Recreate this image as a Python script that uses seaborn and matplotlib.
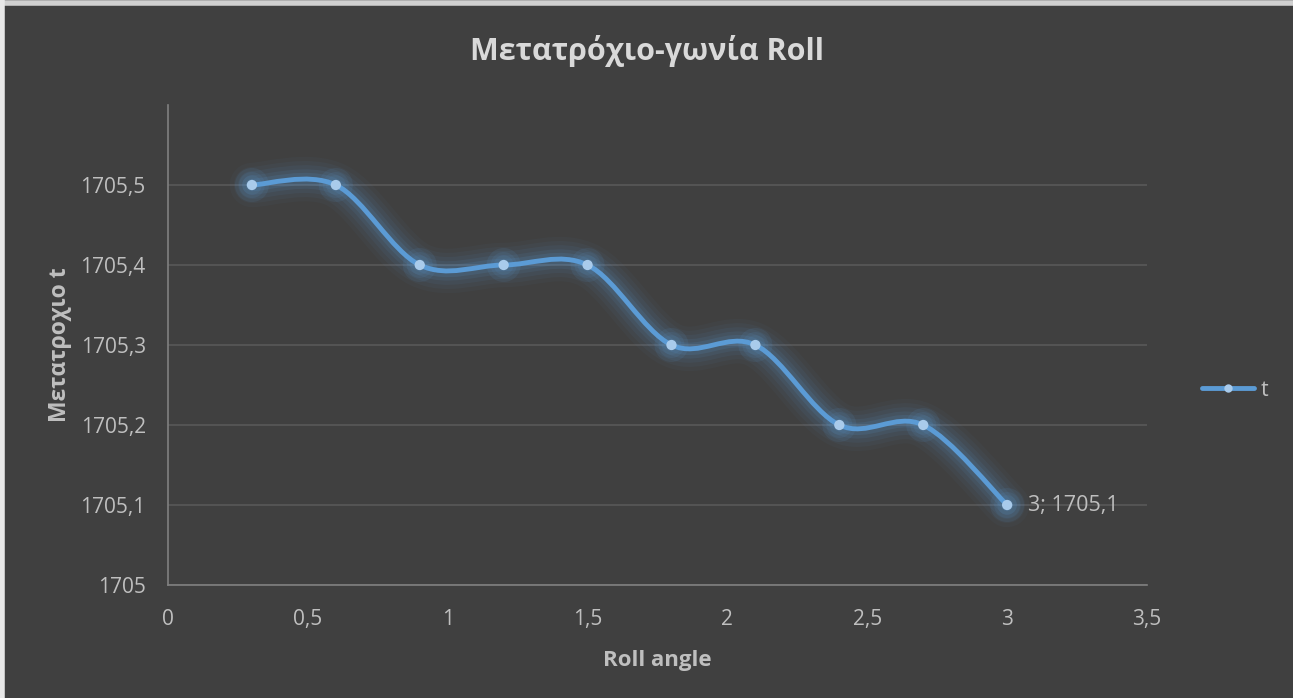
import numpy as np
import pandas as pd
import matplotlib as mpl
import matplotlib.pyplot as plt
import seaborn as sns
from matplotlib.path import Path
from matplotlib.patches import PathPatch
from matplotlib.ticker import FuncFormatter
mpl.use('agg')

roll_angle = [0.3, 0.6, 0.9, 1.2, 1.5, 1.8, 2.1, 2.4, 2.7, 3.0]
t_values = [1705.5, 1705.5, 1705.4, 1705.4, 1705.4, 1705.3, 1705.3, 1705.2, 1705.2, 1705.1]
x_ticks = [0, 0.5, 1, 1.5, 2, 2.5, 3, 3.5]
y_ticks = [1705, 1705.1, 1705.2, 1705.3, 1705.4, 1705.5]

df = pd.DataFrame({'Roll angle': roll_angle, 't': t_values})

bg = '#404040'
line_c = '#5B9BD5'
marker_c = '#A9CBEB'
txt = '#BFBFBF'

sns.set_style('dark')
plt.rcParams['font.family'] = ['Open Sans', 'DejaVu Sans']

fig = plt.figure(figsize=(12.93, 6.98), dpi=100, facecolor=bg)
ax = fig.add_axes([168/1293, 1 - 585/698, (1147-168)/1293, (585-105)/698])
ax.set_facecolor(bg)

# excel style smoothed line: bezier segments through the data points
xs = df['Roll angle'].to_numpy()
ys = df['t'].to_numpy()
n = len(xs)
verts = [(xs[0], ys[0])]
codes = [Path.MOVETO]
k = 1/6
for i in range(n - 1):
    x0, y0 = (xs[i-1], ys[i-1]) if i > 0 else (xs[i], ys[i])
    x3, y3 = (xs[i+2], ys[i+2]) if i + 2 < n else (xs[i+1], ys[i+1])
    c1 = (xs[i] + (xs[i+1] - x0) * k, ys[i] + (ys[i+1] - y0) * k)
    c2 = (xs[i+1] - (x3 - xs[i]) * k, ys[i+1] - (y3 - ys[i]) * k)
    verts += [c1, c2, (xs[i+1], ys[i+1])]
    codes += [Path.CURVE4] * 3
path = Path(verts, codes)

# glow
for lw, a in [(32, 0.04), (26, 0.05), (20, 0.07), (14, 0.09), (9, 0.13)]:
    ax.add_patch(PathPatch(path, facecolor='none', edgecolor=line_c, lw=lw, alpha=a,
                           capstyle='round', joinstyle='round', zorder=2))
ax.add_patch(PathPatch(path, facecolor='none', edgecolor=line_c, lw=3.5,
                       capstyle='round', zorder=3))
sns.scatterplot(data=df, x='Roll angle', y='t', ax=ax, color=marker_c, s=55,
                edgecolor='none', zorder=5, legend=False)
for s in [600, 350, 200]:
    ax.scatter(xs, ys, s=s, color=line_c, alpha=0.10, edgecolor='none', zorder=2)

ax.annotate('3; 1705,1', (xs[-1], ys[-1]), xytext=(15, 0), textcoords='offset points',
            va='center', ha='left', color=txt, fontsize=15.5)

ax.set_xlim(0, 3.5)
ax.set_ylim(1705, 1705.6)
ax.set_xticks(x_ticks)
ax.set_yticks(y_ticks)
fmt = FuncFormatter(lambda v, p: ('%g' % v).replace('.', ','))
ax.xaxis.set_major_formatter(fmt)
ax.yaxis.set_major_formatter(FuncFormatter(lambda v, p: ('%.1f' % v).replace('.', ',') if abs(v - round(v)) > 1e-6 else '%d' % round(v)))
ax.tick_params(colors=txt, labelsize=15, length=0)
ax.tick_params(axis='x', pad=17)
ax.tick_params(axis='y', pad=16)
ax.grid(axis='y', color='#595959', lw=1.2)
ax.grid(axis='x', visible=False)
for sp in ['top', 'right']:
    ax.spines[sp].set_visible(False)
for sp in ['left', 'bottom']:
    ax.spines[sp].set_visible(True)
    ax.spines[sp].set_color('#808080')
    ax.spines[sp].set_linewidth(1.2)

ax.set_xlabel('Roll angle', color=txt, fontsize=16, fontweight='bold', labelpad=15)
ax.set_ylabel('Μετατροχιο t', color=txt, fontsize=16.5, fontweight='bold', labelpad=6)
fig.text(0.5, 1 - 51/698, 'Μετατρόχιο-γωνία Roll', ha='center', va='center',
         color='#D9D9D9', fontsize=22, fontweight='bold')

# legend
h = [mpl.lines.Line2D([], [], color=line_c, lw=3.5, marker='o', markersize=6,
                      markerfacecolor=marker_c, markeredgecolor='none')]
leg = fig.legend(h, ['t'], loc='center left', bbox_to_anchor=(1183/1293, 1 - 390/698),
                 frameon=False, fontsize=15.5, handlelength=2.4, handletextpad=0.3)
for t in leg.get_texts():
    t.set_color(txt)

# light frame at top and left
fig.add_artist(mpl.lines.Line2D([0, 1], [1 - 3/698, 1 - 3/698], color='#D0D0D0', lw=4, transform=fig.transFigure))
fig.add_artist(mpl.lines.Line2D([2/1293, 2/1293], [0, 1], color='#E8E8E8', lw=4, transform=fig.transFigure))

plt.savefig('out.png', dpi=100, facecolor=bg)
